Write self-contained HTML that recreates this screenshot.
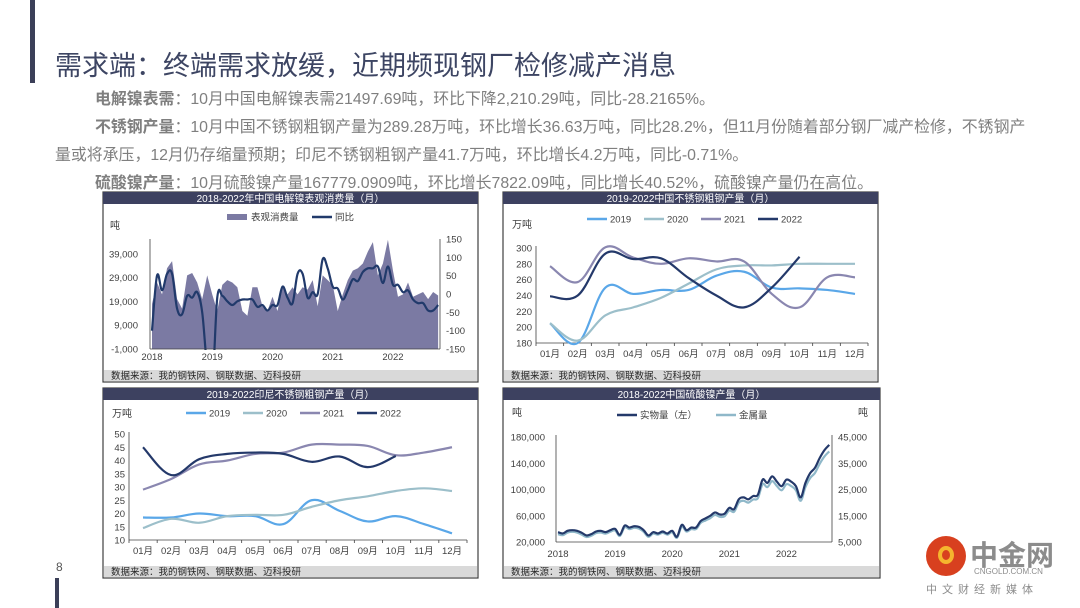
<!DOCTYPE html>
<html><head><meta charset="utf-8">
<style>
body{margin:0;width:1080px;height:608px;overflow:hidden;background:#fff;position:relative;font-family:"Liberation Sans","Noto Sans CJK SC",sans-serif;}
.t{position:absolute;white-space:nowrap;color:#7f7f7f;font-size:15.9px;}
.t b{color:#7f7f7f;font-weight:bold;}
svg{position:absolute;left:0;top:0;}
svg text{font-family:"Liberation Sans","Noto Sans CJK SC",sans-serif;}
</style></head><body>
<div style="position:absolute;left:30px;top:0;width:5px;height:83px;background:#3b3f58"></div>
<div class="t" style="left:55px;top:44px;font-size:27px;color:#3d4563">需求端：终端需求放缓，近期频现钢厂检修减产消息</div>
<div class="t" style="left:95px;top:86px"><b>电解镍表需</b>：10月中国电解镍表需21497.69吨，环比下降2,210.29吨，同比-28.2165%。</div>
<div class="t" style="left:95px;top:114px"><b>不锈钢产量</b>：10月中国不锈钢粗钢产量为289.28万吨，环比增长36.63万吨，同比28.2%，但11月份随着部分钢厂减产检修，不锈钢产</div>
<div class="t" style="left:55px;top:142px">量或将承压，12月仍存缩量预期；印尼不锈钢粗钢产量41.7万吨，环比增长4.2万吨，同比-0.71%。</div>
<div class="t" style="left:95px;top:170px"><b>硫酸镍产量</b>：10月硫酸镍产量167779.0909吨，环比增长7822.09吨，同比增长40.52%，硫酸镍产量仍在高位。</div>
<div class="t" style="left:56px;top:560px;font-size:12px;color:#555">8</div>
<div style="position:absolute;left:55px;top:578px;width:4px;height:30px;background:#3b3f58"></div>
<div style="position:absolute;left:922px;top:536px;width:150px;height:70px">
  <div style="position:absolute;left:4px;top:0;width:40px;height:40px;border-radius:50%;background:#d8401f"></div>
  <div style="position:absolute;left:16px;top:10px;width:16px;height:18px;border-radius:50%;border:4px solid #f5b52e;box-sizing:border-box"></div>
  <div style="position:absolute;left:48px;top:-2px;font-size:28px;color:#8c8c8c;font-weight:bold">中金网</div>
  <div style="position:absolute;left:52px;top:31px;font-size:8px;color:#8c8c8c">CNGOLD.COM.CN</div>
  <div style="position:absolute;left:4px;top:45px;font-size:11px;color:#8c8c8c;letter-spacing:5px">中文财经新媒体</div>
</div>
<svg id="s" width="1080" height="608"></svg>
<script>
const c1Consumption=[18,27,22,33,36,20,16,30,31,27,20,30,
 22,15,26,28,27,25,15,13,25,25,17,15,
 21,15,25,22,25,22,25,24,28,17,30,28,
 26,15,22,28,32,33,35,40,44,30,35,45,
 32,21,22,27,21,22,23,20,23,21.5];
const c1Yoy=[-100,50,10,55,55,-40,-55,-5,-10,5,-50,-200,
 -250,-10,-5,-20,-30,-20,-15,-15,-15,-35,-30,-45,
 -30,-30,20,-10,-25,55,55,-10,5,0,95,70,
 20,15,-15,10,40,35,60,70,70,75,30,75,
 25,25,5,10,-15,-25,-25,-45,-45,-30];
const c1LeftTicks=[-1000,9000,19000,29000,39000];
const c1RightTicks=[-150,-100,-50,0,50,100,150];
const c1Years=["2018","2019","2020","2021","2022"];
const months=["01月","02月","03月","04月","05月","06月","07月","08月","09月","10月","11月","12月"];
const seriesNames=["2019","2020","2021","2022"];
const c2_2019=[205,180,250,242,247,247,265,270,250,249,247,242];
const c2_2020=[205,183,215,225,237,255,273,278,278,280,280,280];
const c2_2021=[277,257,301,288,280,287,283,283,242,225,263,263];
const c2_2022=[239,240,293,286,287,262,240,225,250,289];
const c2Ticks=[180,200,220,240,260,280,300];
const c3_2019=[18.5,18.5,20,19,19,16,25,21,17,19,16,12.5];
const c3_2020=[14.5,18,16.5,19,19.5,19.5,22.5,25,26.5,28.5,29.5,28.5];
const c3_2021=[29,33,38.5,40,42.5,43,46,46,45.5,42,43,45];
const c3_2022=[45,34.5,40.5,42.5,43,42.5,39.5,41.5,37.5,41.7];
const c3Ticks=[10,15,20,25,30,35,40,45,50];
const c4Physical=[35,33,37,38,37,34,30,32,36,37,35,38,
 40,31,45,42,44,43,38,30,35,33,36,33,
 37,28,46,38,42,42,52,56,60,65,62,63,
 72,70,85,88,85,90,92,115,110,120,112,105,
 115,112,105,88,110,125,133,148,160,168];
const c4Metal=[8.0,7.6,8.6,8.9,8.6,7.8,6.9,7.4,8.4,8.6,8.2,8.9,
 9.4,7.3,10.6,9.9,10.4,10.1,8.9,7.0,8.2,7.8,8.5,7.8,
 8.7,6.6,10.8,9.0,9.9,9.9,12.3,13.2,14.1,15.3,14.6,14.8,
 17.0,16.5,20.0,20.7,20.0,21.2,21.7,27.0,25.9,28.2,26.3,24.7,
 27.0,26.3,24.7,20.7,25.9,29.4,31.3,34.8,37.6,39.5];
const c4LeftTicks=[20000,60000,100000,140000,180000];
const c4RightTicks=[5000,15000,25000,35000,45000];

const NS="http://www.w3.org/2000/svg";
const svg=document.getElementById('s');
function el(tag,attrs,parent,txt){const e=document.createElementNS(NS,tag);for(const k in attrs)e.setAttribute(k,attrs[k]);if(txt!==undefined)e.textContent=txt;(parent||svg).appendChild(e);return e;}
function smooth(pts){if(pts.length<2)return"";let d="M"+pts[0][0]+","+pts[0][1];for(let i=0;i<pts.length-1;i++){const p0=pts[i-1]||pts[i],p1=pts[i],p2=pts[i+1],p3=pts[i+2]||p2;const t=0.18;d+=" C"+(p1[0]+(p2[0]-p0[0])*t)+","+(p1[1]+(p2[1]-p0[1])*t)+" "+(p2[0]-(p3[0]-p1[0])*t)+","+(p2[1]-(p3[1]-p1[1])*t)+" "+p2[0]+","+p2[1];}return d;}
function fmt(v){return v.toLocaleString('en-US');}
function panel(name,x,y,w,h,title){
  const g=el('g',{});
  el('rect',{x:x,y:y,width:w,height:h,fill:'#fff',stroke:'#404040','stroke-width':1.2},g);
  const tb=el('rect',{x:x,y:y,width:w,height:12,fill:'#3d4160'},g);
  const tt=el('text',{x:x+w/2,y:y+10,'text-anchor':'middle','font-size':10,fill:'#fff'},g,title);
  const sb=el('rect',{x:x+1,y:y+h-12,width:w-2,height:11,fill:'#d9d9d9'},g);
  const st=el('text',{x:x+8,y:y+h-3,'font-size':9.5,fill:'#262626'},g,'数据来源：我的钢铁网、钢联数据、迈科投研');
  return g;
}
function label(g,x,y,t,anchor,size,name){const e=el('text',{x:x,y:y,'text-anchor':anchor||'middle','font-size':size||9.5,fill:'#404040'},g,t);return e;}
function legendLine(g,x,y,color,t){const l=el('line',{x1:x,y1:y,x2:x+20,y2:y,stroke:color,'stroke-width':2.5},g);label(g,x+23,y+3.5,t,'start',9.5,'legend-entry-'+t);}

(function(){
 const g=panel('chart-nickel-consumption',103,192,375,190,'2018-2022年中国电解镍表观消费量（月）');
 const X0=152,XS=5.02,YB=349;
 const xs=i=>X0+i*XS;
 const yl=v=>YB-(v+1000)*(110/46300);
 const yr=v=>YB-(v+150)*(110/300);
 const cl=el('clipPath',{id:'c1clip'},g);el('rect',{x:140,y:236,width:305,height:114},cl);
 let d="M"+xs(0)+","+YB;c1Consumption.forEach((v,i)=>d+=" L"+xs(i)+","+yl(v*1000));d+=" L"+xs(c1Consumption.length-1)+","+YB+"Z";
 const a=el('path',{d:d,fill:'#7b7aa3'},g);
 const ln=el('path',{d:smooth(c1Yoy.map((v,i)=>[xs(i),yr(v)])),fill:'none',stroke:'#213a6b','stroke-width':2.2,'clip-path':'url(#c1clip)'},g);
 el('line',{x1:150,y1:239,x2:150,y2:YB,stroke:'#404040','stroke-width':0.8},g);
 el('line',{x1:440,y1:239,x2:440,y2:YB,stroke:'#404040','stroke-width':0.8},g);
 el('line',{x1:150,y1:YB,x2:440,y2:YB,stroke:'#404040','stroke-width':0.8},g);
 c1LeftTicks.forEach(v=>label(g,138,yl(v)+3.5,fmt(v),'end'));
 c1RightTicks.forEach(v=>label(g,446,yr(v)+3.5,String(v),'start'));
 c1Years.forEach((t,i)=>label(g,xs(i*12),360,t));
 label(g,110,229,'吨','start',10,'y-axis-unit');
 const sw=el('rect',{x:227,y:214,width:20,height:6,fill:'#7b7aa3'},g);
 label(g,251,220.5,'表观消费量','start',9.5,'legend-entry-consumption');
 legendLine(g,312,217,'#213a6b','同比');
})();

const colors=['#5aa7e8','#9cbfca','#8a87b0','#24396a'];
function lineChart(name,px,py,title,sets,ticks,ymin,ymax,Y0,Y1,X1,X12,axL,axR,unitY,legY,legX){
 const g=panel(name,px,py,375,190,title);
 const step=(X12-X1)/11;const xs=i=>X1+i*step;
 const y=v=>Y1-(v-ymin)/(ymax-ymin)*(Y1-Y0);
 el('line',{x1:axL,y1:Y0-2,x2:axL,y2:Y1,stroke:'#404040','stroke-width':0.8},g);
 el('line',{x1:axL,y1:Y1,x2:axR,y2:Y1,stroke:'#404040','stroke-width':0.8},g);
 for(let i=0;i<=12;i++){const tx=axL+(axR-axL)/12*i;el('line',{x1:tx,y1:Y1,x2:tx,y2:Y1+3,stroke:'#404040','stroke-width':0.8},g);}
 ticks.forEach(v=>label(g,axL-4,y(v)+3.5,String(v),'end'));
 months.forEach((m,i)=>label(g,xs(i),Y1+14,m));
 label(g,px+9,unitY,'万吨','start',10,'y-axis-unit');
 sets.forEach((arr,k)=>{const p=el('path',{d:smooth(arr.map((v,i)=>[xs(i),y(v)])),fill:'none',stroke:colors[k],'stroke-width':2.2},g);});
 seriesNames.forEach((n,k)=>legendLine(g,legX+k*57,legY,colors[k],n));
}
lineChart('chart-china-stainless',503,192,'2019-2022中国不锈钢粗钢产量（月）',[c2_2019,c2_2020,c2_2021,c2_2022],c2Ticks,180,300,248,343,550,855,536,868,228,219,587);
lineChart('chart-indonesia-stainless',103,388,'2019-2022印尼不锈钢粗钢产量（月）',[c3_2019,c3_2020,c3_2021,c3_2022],c3Ticks,10,50,434,540,143,452,129,467,417,413,186);

(function(){
 const g=panel('chart-nickel-sulfate',503,388,377,190,'2018-2022中国硫酸镍产量（月）');
 const X0=558,XS=57.1/12,Y0=437,Y1=542;
 const xs=i=>X0+i*XS;
 const yl=v=>Y1-(v-20000)/160000*(Y1-Y0);
 const yr=v=>Y1-(v-5000)/40000*(Y1-Y0);
 el('line',{x1:556,y1:Y0-2,x2:556,y2:Y1,stroke:'#404040','stroke-width':0.8},g);
 el('line',{x1:832,y1:Y0-2,x2:832,y2:Y1,stroke:'#404040','stroke-width':0.8},g);
 el('line',{x1:556,y1:Y1,x2:832,y2:Y1,stroke:'#404040','stroke-width':0.8},g);
 c4LeftTicks.forEach(v=>label(g,545,yl(v)+3.5,fmt(v),'end'));
 c4RightTicks.forEach(v=>label(g,838,yr(v)+3.5,fmt(v),'start'));
 c1Years.forEach((t,i)=>label(g,xs(i*12),557,t));
 label(g,512,416,'吨','start',10,'y-axis-unit-left');
 label(g,858,416,'吨','start',10,'y-axis-unit-right');
 const m=el('path',{d:smooth(c4Metal.map((v,i)=>[xs(i),yr(v*1000)])),fill:'none',stroke:'#8fb8c9','stroke-width':2.2},g);
 const p=el('path',{d:smooth(c4Physical.map((v,i)=>[xs(i),yl(v*1000)])),fill:'none',stroke:'#24396a','stroke-width':2.2},g);
 legendLine(g,617,415,'#24396a','实物量（左）');
 legendLine(g,716,415,'#8fb8c9','金属量');
})();
</script>
</body></html>
